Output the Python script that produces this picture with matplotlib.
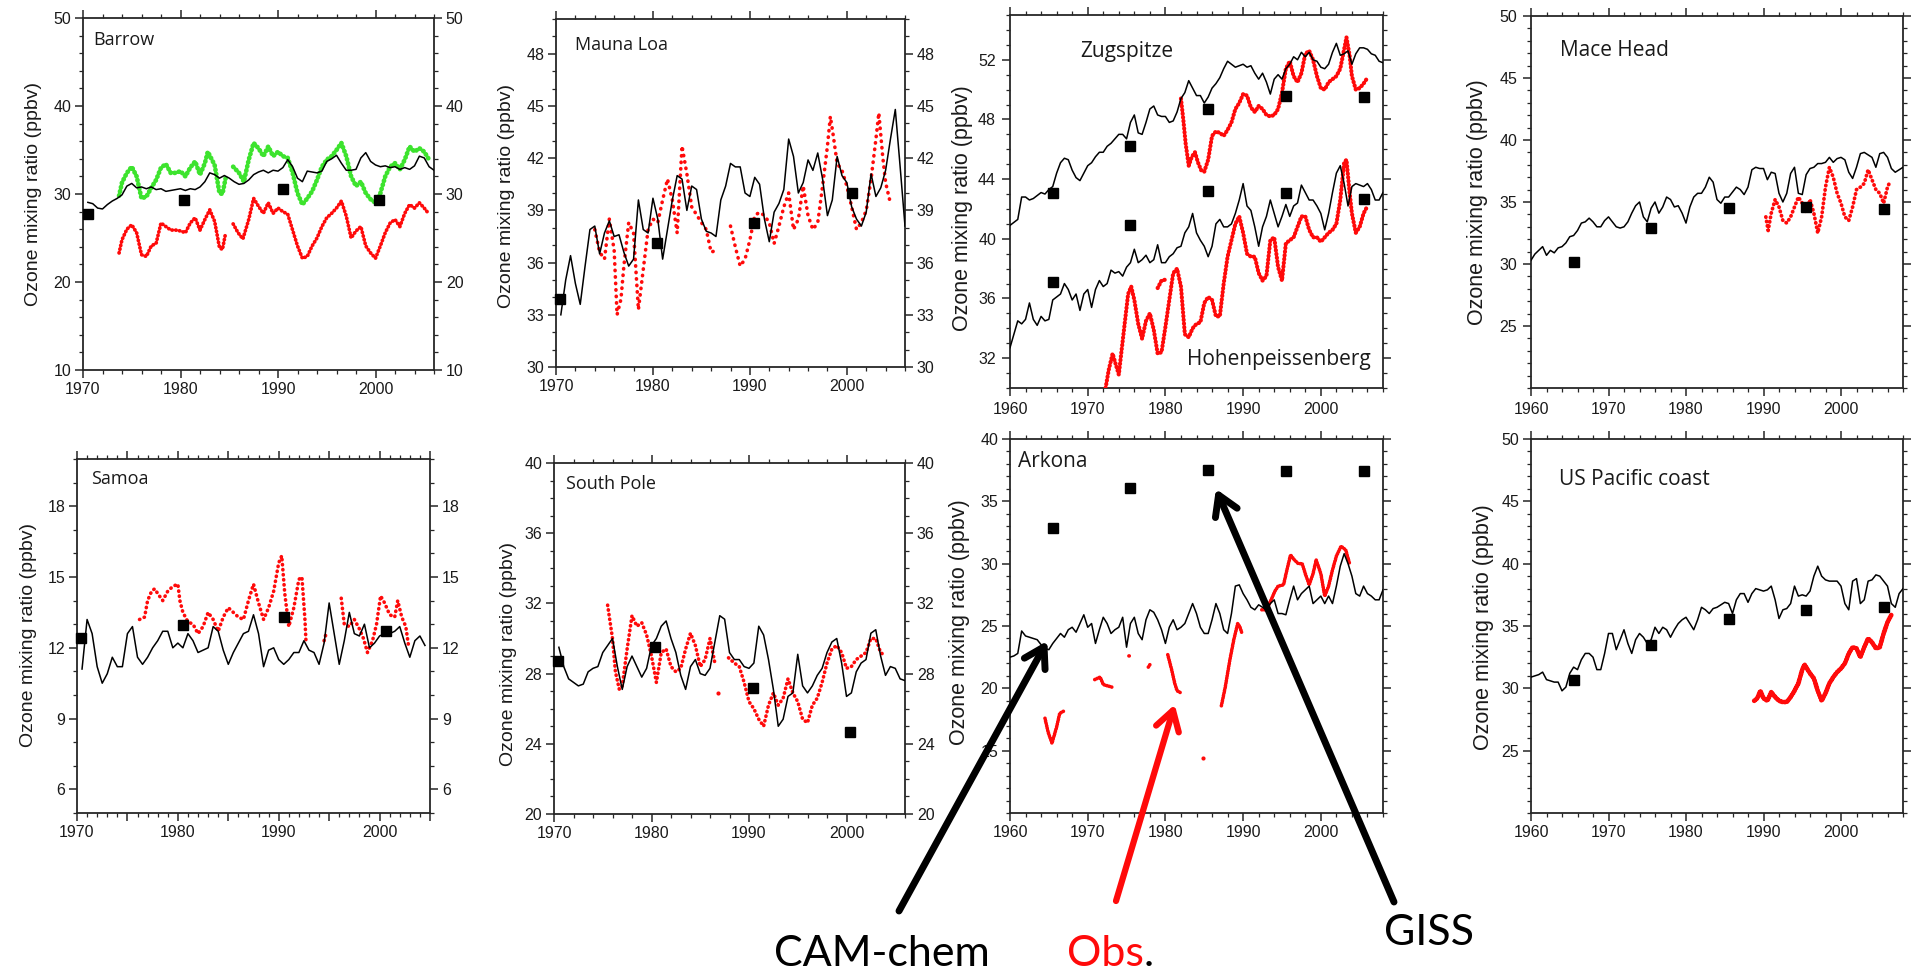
import numpy as np
import matplotlib
matplotlib.use("Agg")
import matplotlib.pyplot as plt
from matplotlib.ticker import MultipleLocator, FixedLocator, FuncFormatter
from matplotlib.patches import ArrowStyle

# ---------------------------------------------------------------------------
# Data: ozone mixing ratio (ppbv)
# Model lines (CAM-chem) are half-yearly values starting at the given year.
# Observations are (year, value) pairs; None marks a break in the record.
# GISS values are decadal means.
# ---------------------------------------------------------------------------

BARROW_MODEL_START = 1970.5
BARROW_MODEL = [29.05, 28.9, 28.4, 28.3, 28.8, 29.2, 29.5, 29.9, 30.9, 31.2, 30.7, 30.8, 30.6, 30.8,
                30.5, 30.6, 30.3, 30.4, 30.5, 30.6, 30.4, 30.6, 30.5, 30.8, 31.4, 32.4, 32.2, 31.8,
                32.1, 31.8, 31.4, 31.1, 31.2, 31.6, 32.2, 32.5, 32.7, 32.4, 32.7, 32.6, 33.0, 33.9,
                33.1, 31.8, 31.4, 32.6, 32.5, 32.4, 32.6, 33.7, 34.0, 34.4, 33.5, 32.7, 32.7, 32.8,
                34.1, 34.7, 33.7, 33.3, 33.1, 33.2, 33.0, 33.1, 32.8, 33.0, 32.8, 33.2, 34.3, 34.1,
                33.1, 32.7]
BARROW_OBS = [(1973.7, 23.3), (1974, 24.8), (1974.5, 26.0), (1975, 26.5), (1975.5, 25.6), (1976, 23.1),
              (1976.5, 22.9), (1977, 24.1), (1977.5, 24.4), (1978, 26.7), (1978.5, 26.3), (1979, 25.9),
              (1979.5, 25.9), (1980, 25.8), (1980.5, 25.6), (1981, 26.7), (1981.5, 27.3), (1982, 25.9),
              (1982.5, 27.1), (1983, 28.2), (1983.5, 26.9), (1984, 23.9), (1984.3, 23.7), (1984.6, 25.4),
              None,
              (1985.4, 26.6), (1985.9, 25.6), (1986.4, 24.9), (1987, 27.1), (1987.5, 29.5), (1988, 28.6),
              (1988.5, 27.8), (1989, 29.0), (1989.5, 27.8), (1990, 28.4), (1990.5, 28.0), (1991, 27.7),
              (1991.5, 25.9), (1992, 24.1), (1992.5, 22.7), (1993, 22.9), (1993.5, 24.1), (1994, 25.0),
              (1994.5, 26.3), (1995, 27.3), (1995.5, 27.8), (1996, 28.4), (1996.5, 29.2), (1997, 27.5),
              (1997.5, 25.0), (1998, 25.8), (1998.5, 26.3), (1999, 24.1), (1999.5, 23.3), (2000, 22.7),
              (2000.5, 24.1), (2001, 25.6), (2001.5, 26.7), (2002, 27.1), (2002.5, 26.3), (2003, 27.8),
              (2003.5, 28.8), (2004, 28.4), (2004.5, 29.0), (2005, 28.4), (2005.5, 27.7)]
BARROW_OBS_ADJ = [(1973.7, 29.8), (1974, 31.3), (1974.5, 32.4), (1975, 33.1), (1975.5, 32.0), (1976, 29.5),
                  (1976.5, 29.7), (1977, 30.7), (1977.5, 31.6), (1978, 33.0), (1978.5, 33.4), (1979, 32.4),
                  (1979.5, 32.4), (1980, 32.6), (1980.5, 32.0), (1981, 33.0), (1981.5, 33.7), (1982, 32.2),
                  (1982.5, 33.5), (1982.8, 34.8), (1983.5, 33.3), (1984, 30.1), (1984.3, 30.0), (1984.7, 32.2),
                  None,
                  (1985.4, 33.1), (1986, 32.4), (1986.5, 31.4), (1987, 33.9), (1987.5, 35.8), (1988, 35.2),
                  (1988.5, 34.3), (1989, 35.4), (1989.5, 34.3), (1990, 34.8), (1990.5, 34.3), (1991, 34.1),
                  (1991.5, 32.4), (1992, 30.1), (1992.5, 28.8), (1993, 29.5), (1993.5, 30.3), (1994, 31.6),
                  (1994.5, 33.1), (1995, 33.9), (1995.5, 34.3), (1996, 35.0), (1996.5, 35.8), (1997, 34.3),
                  (1997.5, 32.0), (1998, 30.9), (1998.5, 31.4), (1999, 30.1), (1999.5, 29.4), (2000, 29.0),
                  (2000.5, 30.1), (2001, 32.0), (2001.5, 33.1), (2002, 33.5), (2002.5, 32.8), (2003, 33.9),
                  (2003.5, 35.4), (2004, 34.8), (2004.5, 35.2), (2005, 34.8), (2005.5, 33.9)]
BARROW_GISS_YEARS = [1970.5, 1980.4, 1990.5, 2000.4]
BARROW_GISS = [27.7, 29.3, 30.6, 29.3]

MAUNA_LOA_MODEL_START = 1970.5
MAUNA_LOA_MODEL = [33.0, 35.0, 36.4, 34.8, 33.6, 35.8, 37.9, 38.1, 36.5, 37.7, 38.4, 37.5, 37.6, 36.6,
                   35.8, 36.2, 39.6, 37.9, 37.7, 39.7, 38.5, 36.2, 37.9, 39.6, 41.0, 40.8, 39.0, 40.4,
                   40.2, 38.5, 37.8, 37.7, 37.5, 39.6, 40.4, 41.7, 41.5, 41.5, 40.0, 39.8, 40.9, 40.5,
                   38.5, 37.2, 38.9, 39.4, 40.2, 43.1, 42.1, 40.0, 40.6, 41.9, 41.3, 42.3, 40.8, 38.7,
                   39.6, 42.1, 41.0, 40.6, 39.2, 38.5, 38.1, 38.9, 41.1, 39.8, 40.3, 41.3, 43.1, 44.8,
                   41.5, 38.1]
MAUNA_LOA_OBS = [(1974, 37.9), (1974.5, 36.6), (1975, 36.2), (1975.5, 38.5), (1976, 36.7), (1976.3, 33.0),
                 (1976.7, 33.9), (1977, 35.8), (1977.5, 38.3), (1978, 37.7), (1978.5, 33.3), (1979, 35.6),
                 (1979.5, 37.9), (1980, 38.5), (1980.5, 38.3), (1981, 39.6), (1981.5, 40.8), (1982, 39.6),
                 (1982.5, 37.7), (1983, 42.7), (1983.5, 41.1), (1984, 39.2), (1985, 38.3), (1985.5, 37.9),
                 (1986, 36.6), (1986.5, 36.7),
                 None,
                 (1988, 38.1), (1988.5, 36.9), (1989, 35.8), (1989.5, 36.2), (1990, 37.3), (1990.5, 38.7),
                 (1991, 38.9), (1991.5, 38.7), (1992, 38.3), (1992.5, 37.1), (1993, 38.1), (1993.5, 39.2),
                 (1994, 40.0), (1994.5, 37.9), (1995, 38.5), (1995.5, 40.4), (1996, 38.7), (1996.5, 37.9),
                 (1997, 38.3), (1997.5, 40.4), (1998, 42.7), (1998.3, 44.4), (1998.6, 43.3), (1999, 41.7),
                 (1999.5, 41.3), (2000, 40.4), (2000.5, 39.2), (2001, 37.9), (2001.5, 38.3), (2002, 39.0),
                 (2002.5, 40.8), (2003, 43.1), (2003.3, 44.6), (2003.7, 42.1), (2004, 40.6), (2004.5, 39.4)]
MAUNA_LOA_GISS_YEARS = [1970.4, 1980.4, 1990.4, 2000.5]
MAUNA_LOA_GISS = [33.9, 37.1, 38.3, 40.0]

ZUGSPITZE_MODEL_START = 1960.0
ZUGSPITZE_MODEL = [40.9, 41.1, 41.3, 42.8, 42.8, 42.6, 42.7, 42.9, 43.1, 43.0, 43.3, 43.5, 44.4, 45.1,
                   45.4, 45.3, 44.6, 44.1, 43.9, 44.4, 44.9, 45.1, 45.5, 45.8, 45.8, 46.2, 46.4, 46.7,
                   47.0, 47.0, 46.7, 47.8, 48.3, 47.1, 47.0, 47.8, 48.7, 48.9, 48.3, 48.2, 48.2, 47.8,
                   47.9, 48.5, 49.4, 49.8, 50.6, 50.1, 49.6, 49.6, 49.1, 49.5, 50.1, 50.4, 50.8, 51.4,
                   51.9, 51.7, 51.5, 51.6, 51.7, 51.5, 51.6, 51.1, 50.7, 51.1, 50.5, 49.7, 50.7, 51.0,
                   50.7, 51.4, 51.7, 52.2, 52.0, 52.5, 52.2, 52.5, 52.0, 51.9, 51.5, 51.4, 51.7, 52.5,
                   53.1, 52.3, 52.4, 52.6, 51.7, 52.4, 52.8, 52.8, 52.7, 52.4, 52.3, 51.9, 51.8]
ZUGSPITZE_OBS = [(1982, 49.4), (1982.3, 48.0), (1982.6, 46.4), (1983, 44.9), (1983.4, 45.5), (1983.8, 45.8),
                 (1984.2, 45.1), (1984.6, 44.6), (1985, 44.5), (1985.5, 45.3), (1986, 46.9), (1986.5, 47.2),
                 (1987, 47.1), (1987.5, 46.9), (1988, 47.3), (1988.5, 47.8), (1989, 48.7), (1989.5, 49.1),
                 (1990, 49.7), (1990.5, 49.6), (1991, 48.8), (1991.5, 48.5), (1992, 48.9), (1992.5, 48.7),
                 (1993, 48.3), (1993.5, 48.2), (1994, 48.3), (1994.5, 48.7), (1995, 49.8), (1995.5, 51.4),
                 (1996, 51.9), (1996.5, 50.9), (1997, 50.5), (1997.5, 51.1), (1998, 52.4), (1998.5, 52.6),
                 (1999, 52.0), (1999.5, 50.9), (2000, 50.1), (2000.5, 50.0), (2001, 50.5), (2001.5, 50.7),
                 (2002, 50.9), (2002.5, 51.4), (2003, 52.7), (2003.3, 53.5), (2003.7, 52.3), (2004, 50.9),
                 (2004.5, 50.0), (2005, 50.1), (2005.5, 50.4), (2006, 50.8)]
ZUGSPITZE_GISS = [43.1, 46.2, 48.7, 49.6, 49.5]

HOHENPEISSENBERG_MODEL_START = 1960.0
HOHENPEISSENBERG_MODEL = [32.7, 33.6, 34.5, 34.3, 34.6, 35.7, 34.6, 34.2, 34.8, 34.5,
                          34.6, 35.9, 36.1, 36.3, 37.0, 36.6, 35.9, 36.3, 35.2, 36.3,
                          36.6, 35.4, 36.6, 37.2, 36.8, 37.0, 37.9, 37.7, 37.8, 37.5,
                          38.1, 38.4, 39.3, 38.4, 38.6, 38.9, 38.4, 38.6, 39.6, 38.4,
                          38.4, 38.8, 39.0, 39.4, 39.5, 40.4, 40.8, 41.7, 40.4, 39.9,
                          39.5, 38.8, 39.5, 41.0, 41.3, 40.8, 40.8, 41.0, 41.7, 42.6,
                          43.7, 42.2, 41.9, 40.8, 39.5, 40.8, 41.5, 42.6, 41.7, 40.8,
                          41.5, 42.3, 41.5, 42.2, 42.4, 43.6, 43.1, 42.6, 42.6, 42.2,
                          41.7, 40.6, 41.7, 43.1, 44.4, 44.9, 43.7, 42.2, 43.5, 43.7,
                          43.6, 43.5, 43.7, 43.3, 42.6, 42.6, 43.1]
HOHENPEISSENBERG_OBS = [(1972.3, 30.0), (1972.7, 31.2), (1973.2, 32.3), (1973.6, 31.6), (1974, 30.9),
                        (1974.4, 32.7), (1974.8, 34.5), (1975.2, 36.3), (1975.6, 36.8), (1976, 35.9),
                        (1976.5, 34.3), (1977, 33.3), (1977.5, 34.5), (1978, 35.0), (1978.5, 33.9),
                        (1979, 32.3), (1979.5, 32.4), (1980, 34.1), (1980.5, 35.9), (1981, 37.7),
                        (1981.5, 38.0), (1982, 36.8), (1982.5, 33.6), (1983, 33.4), (1983.5, 34.0),
                        (1984, 34.3), (1984.5, 34.4), (1985, 35.7), (1985.5, 36.1), (1986, 35.9),
                        (1986.5, 34.8), (1987, 34.8), (1987.5, 37.0), (1988, 38.8), (1988.5, 39.9),
                        (1989, 41.0), (1989.5, 41.5), (1990, 40.4), (1990.5, 39.0), (1991, 38.8),
                        (1991.5, 38.8), (1992, 37.7), (1992.5, 37.2), (1993, 37.5), (1993.5, 39.9),
                        (1994, 40.1), (1994.5, 38.1), (1995, 37.2), (1995.5, 39.7), (1996, 39.9),
                        (1996.5, 40.1), (1997, 40.8), (1997.5, 41.5), (1998, 41.5), (1998.5, 40.6),
                        (1999, 40.1), (1999.5, 40.1), (2000, 39.8), (2000.5, 40.1), (2001, 40.4),
                        (2001.5, 40.6), (2002, 41.0), (2002.5, 42.6), (2003, 45.1), (2003.3, 45.3),
                        (2003.7, 43.1), (2004, 41.7), (2004.5, 40.4), (2005, 40.8), (2005.5, 41.7),
                        (2006, 42.2),
                        None,
                        (1979.0, 36.7), (1979.5, 37.2), (1980.3, 37.3)]
HOHENPEISSENBERG_GISS = [37.1, 40.9, 43.2, 43.1, 42.7]

MACE_HEAD_MODEL_START = 1960.0
MACE_HEAD_MODEL = [30.3, 30.8, 31.1, 31.4, 30.7, 31.1, 30.9, 31.3, 31.4, 31.7, 32.2, 32.3, 32.7, 33.3,
                   33.4, 33.7, 33.4, 33.0, 33.0, 33.5, 33.8, 33.4, 33.0, 32.9, 33.0, 33.4, 34.1, 34.7,
                   35.0, 33.8, 33.4, 34.5, 35.0, 34.1, 34.6, 35.4, 35.2, 34.6, 34.7, 34.1, 33.3, 34.6,
                   35.4, 35.7, 35.7, 36.2, 37.0, 36.6, 35.2, 34.9, 35.4, 35.4, 35.8, 36.2, 36.0, 35.6,
                   36.2, 37.6, 37.8, 37.7, 37.7, 36.8, 37.4, 37.3, 35.7, 35.0, 35.7, 37.3, 37.8, 35.7,
                   35.6, 37.2, 37.7, 37.8, 38.1, 38.1, 38.2, 38.6, 38.2, 38.5, 38.6, 38.4, 37.4, 36.9,
                   37.8, 38.9, 39.0, 38.8, 38.6, 37.8, 38.9, 39.0, 38.6, 37.7, 37.4, 37.6, 37.8]
MACE_HEAD_OBS = [(1990.3, 33.8), (1990.6, 32.7), (1991, 34.1), (1991.5, 35.2), (1992, 34.6), (1992.5, 33.5),
                 (1993, 33.3), (1993.5, 33.8), (1994, 34.6), (1994.5, 35.4), (1995, 34.9), (1995.5, 34.1),
                 (1996, 35.2), (1996.5, 34.1), (1997, 32.5), (1997.5, 33.8), (1998, 36.2), (1998.5, 37.8),
                 (1999, 37.0), (1999.5, 35.7), (2000, 34.9), (2000.5, 33.8), (2001, 33.5), (2001.5, 34.6),
                 (2002, 36.0), (2002.5, 36.2), (2003, 36.5), (2003.5, 37.6), (2004, 36.8), (2004.5, 36.0),
                 (2005, 35.7), (2005.5, 34.9), (2006, 36.2), (2006.3, 36.6)]
MACE_HEAD_GISS = [30.2, 32.9, 34.5, 34.6, 34.4]

SAMOA_MODEL_START = 1970.5
SAMOA_MODEL = [11.1, 13.2, 12.6, 11.2, 10.5, 10.9, 11.6, 11.2, 11.2, 12.6, 12.9, 11.6, 11.3, 11.6,
               12.0, 12.3, 12.7, 12.7, 12.0, 12.2, 12.0, 12.6, 12.3, 11.8, 11.9, 12.0, 12.9, 12.7,
               11.9, 11.3, 11.8, 12.2, 12.6, 12.7, 13.4, 12.6, 11.2, 11.9, 12.0, 11.5, 11.3, 11.5,
               11.8, 11.8, 12.3, 11.9, 11.8, 11.3, 12.2, 13.9, 12.6, 11.3, 12.3, 13.5, 12.6, 12.5,
               13.0, 12.0, 12.2, 12.5, 12.6, 12.6, 12.7, 12.9, 12.2, 11.6, 12.3, 12.5, 12.1]
SAMOA_OBS = [(1976.2, 13.2), (1976.7, 13.3), (1977, 14.0), (1977.4, 14.4), (1977.7, 14.5), (1978, 14.3),
             (1978.5, 14.0), (1979, 14.4), (1979.5, 14.6), (1980, 14.7), (1980.2, 14.0), (1980.5, 13.5),
             (1981, 13.1), (1981.5, 13.0), (1982, 12.6), (1982.5, 12.9), (1983, 13.5), (1983.5, 13.2),
             (1984, 12.7), (1984.5, 13.3), (1985, 13.7), (1985.5, 13.5), (1986, 13.3), (1986.5, 13.2),
             (1987, 14.0), (1987.5, 14.7), (1988, 13.9), (1988.5, 13.2), (1989, 13.7), (1989.5, 14.4),
             (1990, 15.6), (1990.3, 15.9), (1990.6, 14.3), (1991, 12.9), (1991.5, 13.7), (1992, 14.9),
             (1992.3, 15.0), (1992.6, 13.2), (1992.7, 12.3),
             None,
             (1994.5, 12.3), (1994.7, 12.6),
             None,
             (1996.2, 14.1), (1996.5, 13.0), (1997, 12.9), (1997.5, 13.2), (1998, 12.8), (1998.4, 12.4),
             (1998.8, 11.8), (1999.3, 12.3), (1999.7, 13.0), (2000.1, 14.2), (2000.5, 13.9), (2001, 13.4),
             (2001.5, 13.3), (2001.8, 14.0), (2002.2, 13.3), (2002.6, 12.9), (2002.9, 12.0)]
SAMOA_GISS_YEARS = [1970.4, 1980.5, 1990.5, 2000.6]
SAMOA_GISS = [12.4, 12.95, 13.3, 12.7]

SOUTH_POLE_MODEL_START = 1970.5
SOUTH_POLE_MODEL = [29.5, 28.4, 27.7, 27.5, 27.3, 27.4, 28.1, 28.3, 28.4, 29.2, 29.6, 30.0, 28.4, 27.1,
                    28.4, 29.0, 28.4, 27.8, 28.3, 29.6, 30.0, 30.7, 31.0, 30.0, 29.2, 27.9, 27.1, 28.4,
                    28.8, 28.0, 27.9, 28.3, 29.8, 31.3, 31.1, 29.2, 28.8, 28.8, 28.4, 28.3, 28.6, 30.7,
                    30.2, 28.8, 27.1, 25.0, 25.4, 26.7, 26.9, 29.1, 27.3, 26.9, 27.3, 27.9, 28.3, 29.2,
                    29.8, 30.0, 28.6, 26.7, 26.9, 28.1, 28.6, 28.8, 30.3, 30.5, 29.0, 27.9, 28.4, 28.3,
                    27.7, 27.6]
SOUTH_POLE_OBS = [(1975.5, 31.9), (1976, 30.0), (1976.3, 28.1), (1976.7, 27.1), (1977, 27.3), (1977.5, 29.4),
                  (1978, 31.3), (1978.5, 30.7), (1979, 30.9), (1979.5, 30.2), (1980, 29.0), (1980.5, 27.5),
                  (1981, 29.2), (1981.5, 29.4), (1982, 28.4), (1982.5, 28.1), (1983, 28.3), (1983.5, 29.4),
                  (1984, 30.3), (1984.5, 29.6), (1985, 28.4), (1985.5, 28.8), (1986, 30.0), (1986.5, 28.6),
                  None,
                  (1987.9, 28.9), (1988.5, 28.6), (1989, 28.4), (1989.5, 27.5), (1990, 26.4), (1990.5, 26.0),
                  (1991, 25.4), (1991.5, 25.0), (1992, 26.2), (1992.5, 26.9), (1993, 26.2), (1993.5, 26.6),
                  (1994, 27.7), (1994.5, 26.9), (1995, 26.4), (1995.5, 25.4), (1996, 25.2), (1996.5, 26.2),
                  (1997, 26.6), (1997.5, 27.5), (1998, 28.6), (1998.5, 29.4), (1999, 29.6), (1999.5, 29.2),
                  (2000, 28.3), (2000.5, 28.4), (2001, 28.8), (2001.5, 29.0), (2002, 29.2), (2002.5, 30.0),
                  (2003, 30.0), (2003.5, 29.2), (2004, 29.0)]
SOUTH_POLE_OBS_SINGLE = [(1986.8, 26.9)]
SOUTH_POLE_GISS_YEARS = [1970.4, 1980.4, 1990.4, 2000.4]
SOUTH_POLE_GISS = [28.7, 29.5, 27.2, 24.7]

ARKONA_MODEL_START = 1960.0
ARKONA_MODEL = [22.5, 22.6, 22.8, 24.6, 24.2, 24.1, 24.0, 23.9, 23.5, 23.2, 23.1, 23.6, 24.0, 24.4,
                24.1, 24.7, 24.9, 24.5, 25.2, 25.9, 24.9, 25.2, 23.6, 24.7, 25.7, 25.2, 24.4, 24.7,
                24.9, 25.7, 23.3, 25.2, 25.7, 24.4, 23.9, 25.5, 26.3, 26.1, 25.5, 24.7, 23.6, 24.9,
                25.5, 24.7, 24.9, 25.2, 26.0, 26.8, 26.0, 24.9, 24.4, 24.4, 25.5, 26.8, 26.0, 24.7,
                24.4, 26.0, 28.2, 28.3, 27.6, 27.1, 26.5, 26.3, 26.7, 26.5, 26.3, 26.8, 27.1, 26.0,
                26.0, 25.9, 27.1, 28.2, 27.1, 27.6, 27.9, 28.2, 26.8, 27.1, 27.4, 26.8, 27.4, 26.8,
                28.2, 29.8, 30.8, 30.0, 29.0, 27.6, 27.4, 28.2, 27.6, 27.4, 27.1, 27.1, 27.9]
ARKONA_OBS = [(1964.5, 17.6), (1964.9, 16.5), (1965.4, 15.6), (1966, 16.9), (1966.4, 18.0), (1967, 18.2),
              None,
              (1970.9, 20.7), (1971.6, 20.9), (1972, 20.3), (1973.1, 20.1),
              None,
              (1975.3, 22.6), (1975.5, 22.6),
              None,
              (1977.8, 21.7), (1978.1, 22.0),
              None,
              (1980.3, 22.7), (1980.8, 21.5), (1981.2, 20.4), (1981.5, 19.8), (1982.1, 19.6),
              None,
              (1987.2, 18.6), (1987.7, 20.1), (1988.3, 22.3), (1988.8, 23.9), (1989.3, 25.2), (1989.6, 24.9),
              (1989.8, 24.5),
              None,
              (1992.4, 26.3), (1993, 26.3), (1993.6, 27.1), (1994.1, 27.8), (1994.5, 28.2), (1995.2, 28.3),
              (1995.6, 29.4), (1996.1, 30.7), (1996.6, 30.3), (1997.1, 30.0), (1997.6, 30.0), (1998, 29.2),
              (1998.5, 28.3), (1999, 29.2), (1999.4, 30.3), (2000, 29.2), (2000.5, 27.4), (2001, 28.2),
              (2001.5, 29.5), (2002, 30.6), (2002.6, 31.4), (2003.2, 31.1), (2003.7, 30.0)]
ARKONA_OBS_SINGLE = [(1984.9, 14.4)]
ARKONA_GISS = [32.9, 36.1, 37.5, 37.45, 37.4]

US_PACIFIC_MODEL_START = 1960.0
US_PACIFIC_MODEL = [30.9, 31.0, 31.1, 31.3, 30.7, 30.6, 30.5, 30.5, 29.8, 30.1, 31.2, 31.7, 31.5, 32.3,
                    32.8, 32.8, 32.5, 31.5, 31.5, 32.8, 34.4, 34.4, 33.1, 33.9, 34.7, 33.6, 32.8, 33.9,
                    34.4, 34.1, 33.6, 33.9, 34.9, 34.4, 34.9, 34.7, 34.1, 34.7, 35.2, 35.5, 35.7, 35.2,
                    34.7, 35.5, 36.5, 36.3, 36.0, 36.4, 36.5, 36.7, 36.9, 36.8, 36.0, 37.1, 37.6, 37.6,
                    36.9, 37.6, 38.0, 37.9, 37.8, 37.9, 38.2, 37.1, 35.6, 36.3, 36.4, 36.8, 38.2, 37.4,
                    37.5, 37.4, 37.8, 39.0, 39.8, 39.0, 38.7, 38.6, 38.6, 38.6, 38.2, 36.8, 36.3, 38.6,
                    38.8, 36.8, 37.1, 38.6, 38.7, 39.1, 39.0, 38.6, 38.2, 36.8, 36.5, 37.6, 38.0]
US_PACIFIC_OBS = [(1988.8, 29.0), (1989.2, 29.2), (1989.6, 29.8), (1990, 29.2), (1990.5, 29.0), (1991, 29.7),
                  (1991.5, 29.3), (1992, 29.0), (1992.5, 28.9), (1993, 28.9), (1993.5, 29.3), (1994, 29.8),
                  (1994.5, 30.4), (1995, 31.5), (1995.3, 31.9), (1995.7, 31.5), (1996, 31.2), (1996.5, 30.8),
                  (1997, 29.8), (1997.5, 29.0), (1998, 29.6), (1998.5, 30.4), (1999, 30.9), (1999.5, 31.3),
                  (2000, 31.6), (2000.5, 32.0), (2001, 32.8), (2001.5, 33.3), (2002, 33.2), (2002.5, 32.5),
                  (2003, 33.3), (2003.5, 34.0), (2004, 33.7), (2004.5, 33.2), (2005, 33.3), (2005.5, 34.4),
                  (2006, 35.3), (2006.5, 35.9)]
US_PACIFIC_GISS = [30.65, 33.5, 35.6, 36.3, 36.5]

EUROPE_GISS_YEARS = [1965.5, 1975.5, 1985.5, 1995.5, 2005.5]

# Pointer targets (year, ppbv) for the callouts on the Arkona panel
CALLOUT_CAM_CHEM = (1964.8, 23.8)
CALLOUT_OBS = (1981.2, 18.7)
CALLOUT_GISS = (1986.5, 36.0)

# ---------------------------------------------------------------------------
# Styling / layout
# ---------------------------------------------------------------------------
W, H = 1915, 972
fig = plt.figure(figsize=(W / 100, H / 100), dpi=100)
fig.patch.set_facecolor("white")

TICK_FONT = "Liberation Sans"
NAME_FONT = "Open Sans"
BIG_FONT = "Lato"
RED = "#ff0a0a"
GREEN = "#3de32e"
AXIS_COLOR = "#262626"
YLABEL = "Ozone mixing ratio (ppbv)"


def ftext(x, y, s, **kw):
    """Place text at pixel position (x from left, y from top)."""
    return fig.text(x / W, 1 - y / H, s, **kw)


def year_fmt(v, _):
    return f"{v:.0f}" if abs(v - round(v / 10) * 10) < 1e-6 else ""


def add_panel(box, xlim, ylim, yticks, yminor, xmajor=10, xminor=2, right_labels=False):
    l, t, r, b = box
    ax = fig.add_axes([l / W, 1 - b / H, (r - l) / W, (b - t) / H])
    ax.set_xlim(*xlim)
    ax.set_ylim(*ylim)
    ax.yaxis.set_major_locator(FixedLocator(yticks))
    ax.yaxis.set_minor_locator(MultipleLocator(yminor))
    ax.xaxis.set_major_locator(MultipleLocator(xmajor))
    ax.xaxis.set_minor_locator(MultipleLocator(xminor))
    ax.xaxis.set_major_formatter(FuncFormatter(year_fmt))
    ax.tick_params(which="both", direction="out", top=True, right=True,
                   labelright=right_labels, color=AXIS_COLOR, labelcolor="#1a1a1a")
    ax.tick_params(which="major", length=6, width=1.1, pad=2.5, labelsize=11.5)
    ax.tick_params(which="minor", length=3, width=0.9)
    for lab in ax.get_xticklabels() + ax.get_yticklabels():
        lab.set_family(TICK_FONT)
    for sp in ax.spines.values():
        sp.set_linewidth(1.3)
        sp.set_color(AXIS_COLOR)
    ax.set_facecolor("white")
    return ax


def unpack(pairs):
    xs, ys = [], []
    for p in pairs:
        if p is None:
            xs.append(np.nan)
            ys.append(np.nan)
        else:
            xs.append(p[0])
            ys.append(p[1])
    return np.array(xs), np.array(ys)


def model_line(ax, start, vals):
    x = start + 0.5 * np.arange(len(vals))
    ax.plot(x, vals, color="black", lw=1.1, zorder=4, solid_joinstyle="round")


def obs_dots(ax, pairs, color=RED, lw=2.6, gap=1.4, zorder=3):
    x, y = unpack(pairs)
    ax.plot(x, y, color=color, lw=lw, linestyle=(0, (0.1, gap)),
            dash_capstyle="round", zorder=zorder)


def obs_single(ax, pairs, size=3.0):
    x, y = unpack(pairs)
    ax.plot(x, y, "o", color=RED, ms=size, mec="none", zorder=3)


def giss(ax, years, vals):
    ax.plot(years, vals, "s", color="black", ms=7.2, ls="none", zorder=6, clip_on=False)


# ---------------- top row ----------------
ax = add_panel((83, 18, 434, 370), (1970, 2006), (10, 50), [10, 20, 30, 40, 50], 2, right_labels=True)
obs_dots(ax, BARROW_OBS_ADJ, color=GREEN, lw=3.4, gap=0.8)
obs_dots(ax, BARROW_OBS, lw=2.7, gap=0.9)
model_line(ax, BARROW_MODEL_START, BARROW_MODEL)
giss(ax, BARROW_GISS_YEARS, BARROW_GISS)

ax = add_panel((556, 19, 905, 367), (1970, 2006), (30, 50), [30, 33, 36, 39, 42, 45, 48], 1, right_labels=True)
obs_dots(ax, MAUNA_LOA_OBS, lw=2.6, gap=1.7)
model_line(ax, MAUNA_LOA_MODEL_START, MAUNA_LOA_MODEL)
giss(ax, MAUNA_LOA_GISS_YEARS, MAUNA_LOA_GISS)

ax = add_panel((1010, 15, 1383, 388), (1960, 2008), (30, 55), [32, 36, 40, 44, 48, 52], 1)
ax.tick_params(which="major", pad=4)
obs_dots(ax, ZUGSPITZE_OBS, lw=3.0, gap=0.8)
obs_dots(ax, HOHENPEISSENBERG_OBS, lw=3.0, gap=0.8)
model_line(ax, ZUGSPITZE_MODEL_START, ZUGSPITZE_MODEL)
model_line(ax, HOHENPEISSENBERG_MODEL_START, HOHENPEISSENBERG_MODEL)
giss(ax, EUROPE_GISS_YEARS, ZUGSPITZE_GISS)
giss(ax, EUROPE_GISS_YEARS, HOHENPEISSENBERG_GISS)

ax = add_panel((1531, 16, 1903, 388), (1960, 2008), (20, 50), [25, 30, 35, 40, 45, 50], 1)
ax.tick_params(which="major", pad=4)
obs_dots(ax, MACE_HEAD_OBS, lw=2.7, gap=1.1)
model_line(ax, MACE_HEAD_MODEL_START, MACE_HEAD_MODEL)
giss(ax, EUROPE_GISS_YEARS, MACE_HEAD_GISS)

# ---------------- bottom row ----------------
ax = add_panel((77, 459, 430, 813), (1970, 2005), (5, 20), [6, 9, 12, 15, 18], 1,
               xmajor=5, xminor=1, right_labels=True)
obs_dots(ax, SAMOA_OBS, lw=2.6, gap=1.3)
model_line(ax, SAMOA_MODEL_START, SAMOA_MODEL)
giss(ax, SAMOA_GISS_YEARS, SAMOA_GISS)

ax = add_panel((554, 463, 905, 814), (1970, 2006), (20, 40), [20, 24, 28, 32, 36, 40], 1, right_labels=True)
obs_dots(ax, SOUTH_POLE_OBS, lw=2.6, gap=1.2)
obs_single(ax, SOUTH_POLE_OBS_SINGLE)
model_line(ax, SOUTH_POLE_MODEL_START, SOUTH_POLE_MODEL)
giss(ax, SOUTH_POLE_GISS_YEARS, SOUTH_POLE_GISS)

ax_arkona = add_panel((1010, 439, 1383, 813), (1960, 2008), (10, 40), [15, 20, 25, 30, 35, 40], 1)
obs_dots(ax_arkona, ARKONA_OBS, lw=2.6, gap=0.6)
obs_single(ax_arkona, ARKONA_OBS_SINGLE)
model_line(ax_arkona, ARKONA_MODEL_START, ARKONA_MODEL)
giss(ax_arkona, EUROPE_GISS_YEARS, ARKONA_GISS)

ax = add_panel((1531, 439, 1903, 813), (1960, 2008), (20, 50), [25, 30, 35, 40, 45, 50], 1)
obs_dots(ax, US_PACIFIC_OBS, lw=3.4, gap=0.45)
model_line(ax, US_PACIFIC_MODEL_START, US_PACIFIC_MODEL)
giss(ax, EUROPE_GISS_YEARS, US_PACIFIC_GISS)

# ---------------- station names ----------------
for name, x, y, size in [("Barrow", 93, 40, 13), ("Mauna Loa", 575, 45, 13),
                         ("Zugspitze", 1080, 52, 15), ("Hohenpeissenberg", 1187, 359, 15),
                         ("Mace Head", 1560, 51, 15), ("Samoa", 91, 479, 13),
                         ("South Pole", 566, 484, 13), ("Arkona", 1018, 461, 15),
                         ("US Pacific coast", 1559, 479, 15)]:
    ftext(x, y, name, family=NAME_FONT, fontsize=size, ha="left", va="center", color="#1a1a1a")

# ---------------- y-axis titles ----------------
for x, y, size in [(34, 194, 14), (507, 196, 14), (963, 208, 15.5), (1478, 202, 15.5),
                   (29, 635, 14), (509, 654, 14), (960, 622, 15.5), (1483, 627, 15.5)]:
    ftext(x, y, YLABEL, family=TICK_FONT, fontsize=size, rotation=90,
          ha="center", va="center", color="#1a1a1a")

# ---------------- callouts ----------------
ftext(774, 966, "CAM-chem", family=BIG_FONT, fontsize=31, ha="left", va="baseline", color="black")
obs_txt = ftext(1067, 966, "Obs", family=BIG_FONT, fontsize=31, ha="left", va="baseline", color=RED)
ax_arkona.annotate(".", xy=(1, 0), xycoords=obs_txt, family=BIG_FONT, fontsize=31,
                   ha="left", va="bottom", color="black", annotation_clip=False)
ftext(1384, 945, "GISS", family=BIG_FONT, fontsize=31, ha="left", va="baseline", color="black")

head = ArrowStyle("->", head_length=1.4, head_width=0.85)
for tip, tail, color, lw in [(CALLOUT_CAM_CHEM, (899, 911), "black", 5.0),
                             (CALLOUT_OBS, (1116, 901), RED, 4.5),
                             (CALLOUT_GISS, (1394, 902), "black", 5.0)]:
    ax_arkona.annotate("", xy=tip, xycoords="data",
                       xytext=(tail[0], H - tail[1]), textcoords="figure pixels",
                       arrowprops=dict(arrowstyle=head, lw=lw, color=color,
                                       shrinkA=0, shrinkB=0, mutation_scale=10),
                       annotation_clip=False, zorder=10)

fig.savefig("out.png", dpi=100, facecolor="white")
